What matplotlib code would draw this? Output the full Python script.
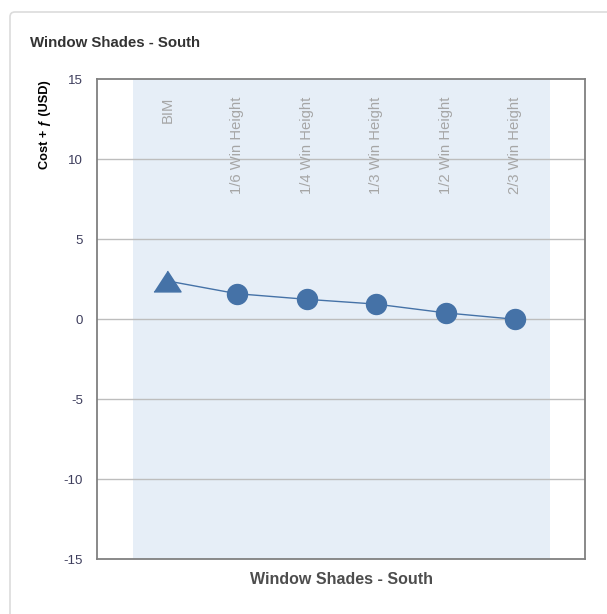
import numpy as np
import matplotlib
matplotlib.use("Agg")
import matplotlib.pyplot as plt
from matplotlib.patches import FancyBboxPatch

# shade options and their cost values
options = ["BIM", "1/6 Win Height", "1/4 Win Height", "1/3 Win Height",
           "1/2 Win Height", "2/3 Win Height"]
cost = [2.4, 1.6, 1.25, 0.95, 0.4, 0.0]
yticks = [-15, -10, -5, 0, 5, 10, 15]
title = "Window Shades - South"

blue = "#4572a7"
sans = "Liberation Sans"

fig = plt.figure(figsize=(6.07, 6.14), dpi=100)

# card outline behind everything
card = FancyBboxPatch((10 / 607, -0.05), 1.2, 1 - 12 / 614 + 0.05,
                      boxstyle="round,pad=0,rounding_size=0.008",
                      transform=fig.transFigure, fc="white", ec="#dcdcdc",
                      lw=1.2, zorder=-10)
fig.patches.append(card)

fig.text(30 / 607, 1 - 43 / 614, title, family=sans, weight="bold",
         fontsize=10.8, color="#333333", va="center", ha="left")

ax = fig.add_axes([97 / 607, 1 - 559.3 / 614, 488 / 607, 480 / 614], zorder=5)
ax.set_facecolor("white")
x = np.arange(len(options))

ax.axvspan(-0.5, len(options) - 0.5, color="#e6eef7", zorder=0, lw=0)
for t in yticks[1:-1]:
    ax.axhline(t, color="#bdbdbd", lw=1, zorder=1)

ax.plot(x, cost, color=blue, lw=1, zorder=3)
tri = [(-1.3, -1), (1.3, -1), (0, 1)]
ax.plot(x[:1], cost[:1], ls="none", marker=tri, ms=19.5, color=blue, zorder=4)
ax.plot(x[1:], cost[1:], ls="none", marker="o", ms=14.4, color=blue, zorder=4)

for xi, lab in zip(x, options):
    ax.text(xi, 13.9, lab, rotation=90, ha="center", va="top",
            fontsize=10.6, color="#a6a6a6", family=sans, zorder=2)

ax.set_xlim(-1.01, len(options))
ax.set_ylim(-15, 15)
ax.set_yticks(yticks)
ax.set_yticklabels([str(t) for t in yticks], fontsize=9.5,
                   family=sans, color="#3d3d5c")
ax.tick_params(axis="y", length=0, pad=10)
ax.set_xticks([])
for s in ax.spines.values():
    s.set_color("#808080")
    s.set_linewidth(1.3)

fig.text(45 / 607, 1 - 80 / 614, "Cost + ƒ (USD)", rotation=90, family=sans,
         weight="bold", fontsize=9.2, color="black", ha="center", va="top")
fig.text(341 / 607, 1 - 579 / 614, title, family=sans, weight="bold",
         fontsize=11.5, color="#4d4d4d", ha="center", va="center")

fig.savefig("out.png", dpi=100)
